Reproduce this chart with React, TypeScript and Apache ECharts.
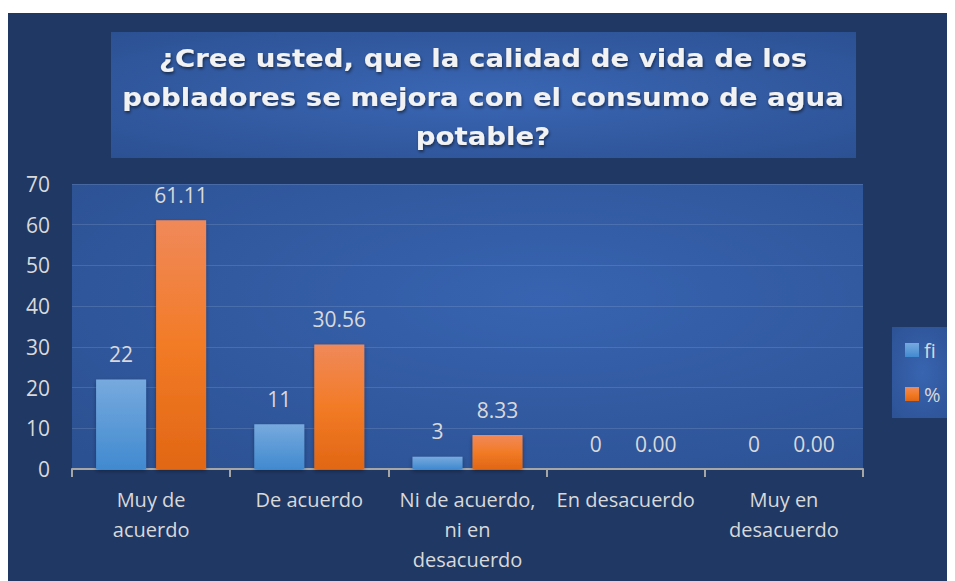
import React, { useEffect, useRef } from "react";
import * as echarts from "echarts";

const categories = ["Muy de\nacuerdo", "De acuerdo", "Ni de acuerdo,\nni en\ndesacuerdo", "En desacuerdo", "Muy en\ndesacuerdo"];
const fiValues = [22, 11, 3, 0, 0];
const pctValues = [61.11, 30.56, 8.33, 0.0, 0.0];
const titleText = "¿Cree usted, que la calidad de vida de los\npobladores se mejora con el consumo de agua\npotable?";
const yTicks = { min: 0, max: 70, interval: 10 };

const FONT = "'Open Sans', 'Noto Sans', sans-serif";
const LABEL = "#d9d9d9";

export default function App() {
  const ref = useRef<HTMLDivElement>(null);
  useEffect(() => {
    if (!ref.current) return;
    const chart = echarts.init(ref.current, null, { renderer: "svg" });
    const fiGrad = new echarts.graphic.LinearGradient(0, 0, 0, 1, [
      { offset: 0, color: "#77aade" },
      { offset: 1, color: "#418ad0" },
    ]);
    const pctGrad = new echarts.graphic.LinearGradient(0, 0, 0, 1, [
      { offset: 0, color: "#f0895a" },
      { offset: 0.5, color: "#f27b26" },
      { offset: 1, color: "#e26715" },
    ]);
    chart.setOption({
      animation: false,
      backgroundColor: "transparent",
      textStyle: { fontFamily: FONT },
      graphic: [
        { type: "rect", z: -10, shape: { x: 0, y: 5, width: 947, height: 568 }, style: { fill: "#203864" } },
        {
          type: "rect",
          z: -9,
          shape: { x: 103, y: 24, width: 745, height: 126 },
          style: {
            fill: new echarts.graphic.RadialGradient(0.5, 0.5, 0.7, [
              { offset: 0, color: "#3a66b4" },
              { offset: 1, color: "#2c5193" },
            ]),
          },
        },
        {
          type: "text",
          z: 10,
          x: 475,
          y: 31,
          scaleX: 1.15,
          style: {
            text: titleText,
            x: 0,
            y: 0,
            align: "center",
            verticalAlign: "top",
            fill: "#f2f2f2",
            font: "bold 24px 'DejaVu Sans', sans-serif",
            lineHeight: 39,
            textShadowColor: "rgba(0,0,0,0.5)",
            textShadowBlur: 3,
            textShadowOffsetX: 1,
            textShadowOffsetY: 2,
          },
        },
        {
          type: "rect",
          z: -9,
          shape: { x: 884, y: 319, width: 61, height: 91 },
          style: {
            fill: new echarts.graphic.RadialGradient(0.5, 0.5, 0.7, [
              { offset: 0, color: "#3864b0" },
              { offset: 1, color: "#2d5295" },
            ]),
          },
        },
        {
          type: "rect",
          z: -9,
          shape: { x: 64, y: 176, width: 791, height: 285 },
          style: {
            fill: new echarts.graphic.RadialGradient(0.6, 0.4, 0.8, [
              { offset: 0, color: "#3763b0" },
              { offset: 1, color: "#2c5192" },
            ]),
          },
        },
      ],
      legend: {
        orient: "vertical",
        left: 892,
        top: 327,
        itemWidth: 14,
        itemHeight: 14,
        itemGap: 24,
        icon: "rect",
        textStyle: { color: LABEL, fontSize: 20, fontFamily: FONT },
        data: ["fi", "%"],
      },
      grid: { left: 64, right: 92, top: 176, bottom: 112, containLabel: false },
      xAxis: {
        type: "category",
        data: categories,
        axisLine: { lineStyle: { color: "#a6a6a6", width: 2 } },
        axisTick: { show: true, length: 8, lineStyle: { color: "#a6a6a6", width: 2 } },
        axisLabel: { color: LABEL, fontSize: 20, lineHeight: 30, margin: 15, interval: 0, fontFamily: FONT },
      },
      yAxis: {
        type: "value",
        min: yTicks.min,
        max: yTicks.max,
        interval: yTicks.interval,
        axisLine: { show: false },
        axisTick: { show: false },
        axisLabel: { color: LABEL, fontSize: 21, margin: 22, fontFamily: FONT },
        splitLine: { lineStyle: { color: "rgba(255,255,255,0.12)", width: 1 } },
      },
      series: [
        {
          name: "fi",
          type: "bar",
          data: fiValues,
          barWidth: 50,
          barGap: "20%",
          itemStyle: { color: fiGrad, shadowColor: "rgba(0,0,0,0.35)", shadowBlur: 4, shadowOffsetY: 2 },
          label: { show: true, position: "top", distance: 15, color: LABEL, fontSize: 21, fontFamily: FONT },
        },
        {
          name: "%",
          type: "bar",
          data: pctValues,
          barWidth: 50,
          itemStyle: { color: pctGrad, shadowColor: "rgba(0,0,0,0.35)", shadowBlur: 4, shadowOffsetY: 2 },
          label: {
            show: true,
            position: "top",
            distance: 15,
            color: LABEL,
            fontSize: 21,
            fontFamily: FONT,
            formatter: (p: any) => Number(p.value).toFixed(2),
          },
        },
      ],
    });
    return () => chart.dispose();
  }, []);
  return <div ref={ref} style={{ width: 947, height: 573 }} />;
}
